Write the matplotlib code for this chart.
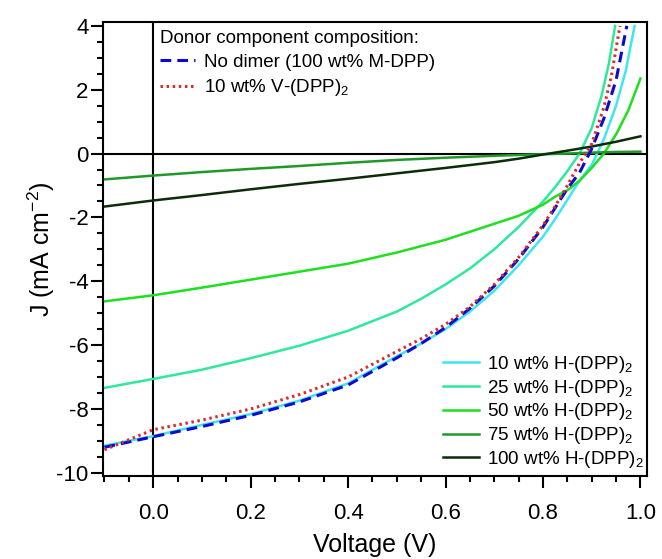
import numpy as np
import matplotlib.pyplot as plt
from matplotlib.ticker import MultipleLocator

plt.rcParams['font.family'] = ['Liberation Sans', 'DejaVu Sans']
plt.rcParams['mathtext.default'] = 'regular'
plt.rcParams['axes.unicode_minus'] = False

# J-V curves (V in volts, J in mA cm^-2)
v_h10 = [-0.1, 0.0, 0.1, 0.2, 0.3, 0.4, 0.5, 0.55, 0.6, 0.65, 0.7, 0.75, 0.8, 0.825,
         0.85, 0.875, 0.9, 0.925, 0.95, 0.97, 0.988]
j_h10 = [-9.15, -8.85, -8.5, -8.16, -7.74, -7.2, -6.35, -5.95, -5.5, -4.95, -4.3, -3.5,
         -2.6, -2.05, -1.45, -0.85, -0.35, 0.45, 1.5, 2.6, 4.0]

v_mono = [-0.1, 0.0, 0.1, 0.2, 0.3, 0.4, 0.5, 0.55, 0.6, 0.65, 0.7, 0.75, 0.8, 0.825,
          0.85, 0.875, 0.9, 0.925, 0.95, 0.972]
j_mono = [-9.2, -8.87, -8.55, -8.2, -7.78, -7.25, -6.4, -5.95, -5.45, -4.85, -4.15, -3.3,
          -2.3, -1.7, -1.1, -0.6, 0.15, 1.1, 2.3, 4.0]

v_v10 = [-0.1, 0.0, 0.1, 0.2, 0.3, 0.4, 0.5, 0.55, 0.6, 0.65, 0.7, 0.75, 0.8, 0.825,
         0.85, 0.875, 0.9, 0.925, 0.94, 0.958]
j_v10 = [-9.28, -8.65, -8.35, -8.0, -7.55, -7.0, -6.2, -5.8, -5.35, -4.8, -4.1, -3.25,
         -2.25, -1.65, -1.0, -0.3, 0.3, 1.45, 2.4, 4.0]

v_h25 = [-0.1, 0.0, 0.1, 0.2, 0.3, 0.4, 0.5, 0.55, 0.6, 0.65, 0.7, 0.75, 0.8, 0.825,
         0.85, 0.875, 0.9, 0.92, 0.935, 0.948]
j_h25 = [-7.34, -7.06, -6.77, -6.41, -6.02, -5.55, -4.95, -4.55, -4.1, -3.6, -3.0, -2.3,
         -1.5, -1.05, -0.55, 0.0, 0.8, 1.8, 2.8, 4.0]

v_h50 = [-0.1, 0.0, 0.1, 0.2, 0.3, 0.4, 0.5, 0.6, 0.7, 0.75, 0.8, 0.825, 0.85, 0.875,
         0.9, 0.925, 0.95, 0.975, 1.0]
j_h50 = [-4.63, -4.44, -4.2, -3.95, -3.7, -3.45, -3.1, -2.7, -2.2, -1.95, -1.6, -1.35,
         -1.15, -0.85, -0.45, 0.0, 0.6, 1.35, 2.35]

v_h75 = [-0.1, 0.0, 0.1, 0.2, 0.3, 0.4, 0.5, 0.6, 0.7, 0.8, 0.85, 0.9, 0.95, 1.0]
j_h75 = [-0.81, -0.69, -0.58, -0.48, -0.39, -0.29, -0.2, -0.13, -0.07, -0.02, 0.0, 0.03,
         0.05, 0.06]

v_h100 = [-0.1, 0.0, 0.1, 0.2, 0.3, 0.4, 0.5, 0.6, 0.7, 0.75, 0.8, 0.85, 0.9, 0.95, 1.0]
j_h100 = [-1.66, -1.47, -1.3, -1.12, -0.95, -0.79, -0.62, -0.45, -0.27, -0.16, -0.03,
          0.09, 0.22, 0.37, 0.54]

fig = plt.figure(figsize=(6.62, 5.59), dpi=100)
ax = fig.add_axes([0.1556, 0.1485, 0.8214, 0.8121])

ax.axhline(0, color='k', lw=1.5, zorder=1)
ax.axvline(0, color='k', lw=1.5, zorder=1)

lw = 1.8
h10, = ax.plot(v_h10, j_h10, color='#3fe6f2', lw=lw, label='10 wt% H-(DPP)$_2$')
h25, = ax.plot(v_h25, j_h25, color='#2ee89e', lw=lw, label='25 wt% H-(DPP)$_2$')
h50, = ax.plot(v_h50, j_h50, color='#1fe01f', lw=lw, label='50 wt% H-(DPP)$_2$')
h75, = ax.plot(v_h75, j_h75, color='#1f9a2a', lw=lw, label='75 wt% H-(DPP)$_2$')
h100, = ax.plot(v_h100, j_h100, color='#0b2c0b', lw=lw, label='100 wt% H-(DPP)$_2$')
mono, = ax.plot(v_mono, j_mono, color='#0a0ad0', lw=2.2, ls=(0, (3.5, 2.0)),
                label='No dimer (100 wt% M-DPP)')
v10, = ax.plot(v_v10, j_v10, color='#e02828', lw=2.2, ls=(0, (0.8, 1.2)),
               label='10 wt% V-(DPP)$_2$')

ax.set_xlim(-0.103, 1.013)
ax.set_ylim(-10.1, 4.12)
ax.xaxis.set_minor_locator(MultipleLocator(0.05))
ax.yaxis.set_major_locator(MultipleLocator(2))
ax.yaxis.set_minor_locator(MultipleLocator(0.5))
ax.set_xticks([0.0, 0.2, 0.4, 0.6, 0.8, 1.0])
ax.set_xticklabels(['0.0', '0.2', '0.4', '0.6', '0.8', '1.0'])
ax.tick_params(which='both', direction='out', width=1.5, labelsize=16)
ax.tick_params(which='major', length=8.5)
ax.tick_params(which='minor', length=4.5)
ax.tick_params(axis='x', which='major', pad=11)
ax.tick_params(axis='y', which='major', pad=2)
for s in ax.spines.values():
    s.set_linewidth(1.5)

ax.set_xlabel('Voltage (V)', fontsize=18)
ax.set_ylabel('J (mA cm$^{-2}$)', fontsize=18)
ax.xaxis.set_label_coords(0.5, -0.125)
ax.yaxis.set_label_coords(-0.085, 0.5)

leg1 = ax.legend(handles=[mono, v10], loc='upper left', bbox_to_anchor=(0.0735, 1.02),
                 frameon=False, fontsize=13.5, title='Donor component composition:',
                 title_fontsize=13.5, handlelength=1.9, handletextpad=0.45,
                 labelspacing=0.35, alignment='left')
ax.add_artist(leg1)
ax.legend(handles=[h10, h25, h50, h75, h100], loc='lower right',
          bbox_to_anchor=(1.026, -0.024), frameon=False, fontsize=13.5,
          handlelength=1.9, handletextpad=0.45, labelspacing=0.15)

fig.savefig('out.png', dpi=100)
